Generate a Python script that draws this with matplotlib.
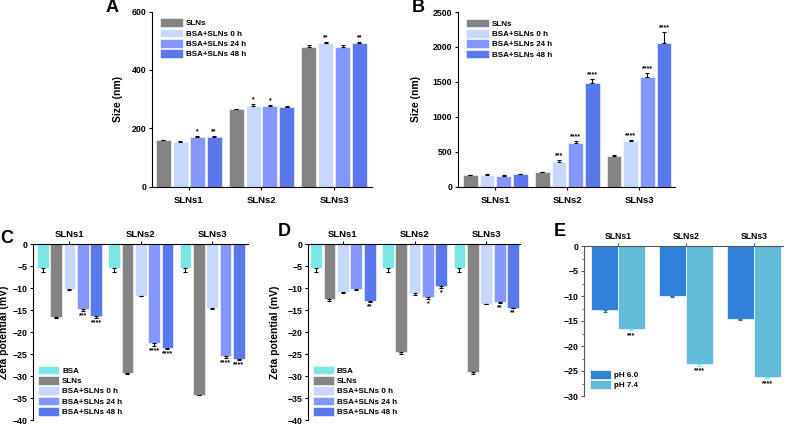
import numpy as np
import matplotlib
matplotlib.use("Agg")
import matplotlib.pyplot as plt
from matplotlib.patches import Patch

plt.rcParams['font.family'] = ['Liberation Sans', 'DejaVu Sans']
plt.rcParams['font.weight'] = 'bold'

groups = ["SLNs1", "SLNs2", "SLNs3"]

# Panel A: size (nm)
size_series = ["SLNs", "BSA+SLNs 0 h", "BSA+SLNs 24 h", "BSA+SLNs 48 h"]
A_vals = [[158, 265, 479], [154, 276, 492], [170, 276, 479], [171, 273, 492]]
A_errs = [[2, 2, 8], [2, 8, 4], [3, 3, 6], [4, 2, 3]]
A_stars = [["", "", ""], ["", "*", "**"], ["*", "*", ""], ["**", "", "**"]]

# Panel B: size (nm)
B_vals = [[167, 204, 440], [168, 357, 655], [155, 624, 1575], [180, 1490, 2055]]
B_errs = [[5, 8, 10], [8, 25, 15], [8, 30, 50], [6, 50, 160]]
B_stars = [["", "", ""], ["", "***", "****"], ["", "****", "****"], ["", "****", "****"]]

# Panel C: zeta potential (mV)
zeta_series = ["BSA", "SLNs", "BSA+SLNs 0 h", "BSA+SLNs 24 h", "BSA+SLNs 48 h"]
C_vals = [[-5.5, -5.5, -5.5], [-16.5, -29.2, -34.3], [-10.2, -11.7, -14.4],
          [-14.7, -22.5, -25.5], [-16.3, -23.5, -26.1]]
C_errs = [[0.8, 0.8, 0.8], [0.3, 0.3, 0.1], [0.2, 0.1, 0.4],
          [0.5, 0.7, 0.4], [0.5, 0.4, 0.3]]
C_stars = [["", "", ""], ["", "", ""], ["", "", ""],
           ["***", "****", "****"], ["****", "****", "****"]]

# Panel D: zeta potential (mV)
D_vals = [[-5.5, -5.5, -5.5], [-12.5, -24.5, -29.1], [-10.8, -11.2, -13.6],
          [-10.1, -12.1, -13.2], [-12.8, -9.6, -14.4]]
D_errs = [[0.9, 0.9, 0.9], [0.5, 0.4, 0.4], [0.2, 0.3, 0.1],
          [0.3, 0.3, 0.2], [0.4, 0.4, 0.1]]
D_stars = [["", "", ""], ["", "", ""], ["", "", ""],
           ["", "*", "**"], ["**", "*", "**"]]

# Panel E: zeta potential by pH
ph_series = ["pH 6.0", "pH 7.4"]
E_vals = [[-12.8, -9.9, -14.6], [-16.5, -23.6, -26.2]]
E_errs = [[0.4, 0.3, 0.1], [0.3, 0.3, 0.2]]
E_stars = [["", "", ""], ["***", "****", "****"]]

size_colors = ["#848484", "#C8D7FF", "#8497FF", "#5A78EC"]
zeta_colors = ["#7DE6E4", "#848484", "#C8D7FF", "#8497FF", "#5A78EC"]
ph_colors = ["#2F82D8", "#62BCD8"]
ph_err_colors = ["#1F7F8F", "#6FE8F5"]

W, H = 789, 424
fig = plt.figure(figsize=(W / 100, H / 100), dpi=100)


def ax_at(x0, x1, y0, y1):
    return fig.add_axes([x0 / W, 1 - y1 / H, (x1 - x0) / W, (y1 - y0) / H])


TICK_FS = 6.3
CAT_FS = 6.8
LAB_FS = 7.5
LEG_FS = 5.8
STAR_FS = 5


def style_common(ax):
    for s in ax.spines.values():
        s.set_linewidth(0.8)
    ax.tick_params(axis='both', labelsize=TICK_FS, width=0.8, length=2.5, pad=1.5)
    for lbl in ax.get_yticklabels() + ax.get_xticklabels():
        lbl.set_fontweight('bold')


def size_panel(ax, vals, errs, stars, ymax, yticks, star_off, ylab_x):
    x = np.arange(len(groups))
    n = len(vals)
    pitch = 0.232
    w = 0.205
    for i in range(n):
        xs = x + (i - (n - 1) / 2) * pitch
        ax.bar(xs, vals[i], w, color=size_colors[i], edgecolor='white', linewidth=0.4,
               zorder=2)
        ax.errorbar(xs, vals[i], yerr=[np.zeros(len(groups)), errs[i]], fmt='none',
                    ecolor='black', elinewidth=0.8, capsize=1.6, capthick=0.8, zorder=3)
        for j in range(len(groups)):
            if stars[i][j]:
                ax.text(xs[j], vals[i][j] + errs[i][j] + star_off, stars[i][j],
                        ha='center', va='bottom', fontsize=STAR_FS, fontweight='bold')
    ax.set_xlim(-0.51, 2.52)
    ax.set_ylim(0, ymax)
    ax.set_yticks(yticks)
    ax.set_xticks(x)
    ax.set_xticklabels(groups, fontsize=CAT_FS, fontweight='bold')
    ax.spines['top'].set_visible(False)
    ax.spines['right'].set_visible(False)
    ax.set_ylabel("Size (nm)", fontsize=LAB_FS, fontweight='bold')
    ax.yaxis.set_label_coords(ylab_x, 0.5)
    style_common(ax)
    ax.tick_params(axis='x', labelsize=CAT_FS, pad=4)
    handles = [Patch(facecolor=c, edgecolor='white', linewidth=0.4) for c in size_colors]
    ax.legend(handles, size_series, loc='upper left', frameon=False,
              handlelength=2.8, handleheight=1.3,
              handletextpad=0.4, labelspacing=0.15, borderaxespad=0.1,
              bbox_to_anchor=(0.02, 0.985), prop={'weight': 'bold', 'size': LEG_FS})


def zeta_panel(ax, vals, errs, stars, xlim, ylab_x):
    x = np.arange(len(groups))
    n = len(vals)
    pitch = 0.187
    w = 0.165
    for i in range(n):
        xs = x + (i - (n - 1) / 2) * pitch
        ax.bar(xs, vals[i], w, color=zeta_colors[i], edgecolor='white', linewidth=0.4,
               zorder=2)
        ax.errorbar(xs, vals[i], yerr=[errs[i], np.zeros(len(groups))], fmt='none',
                    ecolor='black', elinewidth=0.8, capsize=1.5, capthick=0.8, zorder=3)
        for j in range(len(groups)):
            if stars[i][j]:
                ax.text(xs[j], vals[i][j] - errs[i][j] - 0.3, stars[i][j],
                        ha='center', va='top', fontsize=STAR_FS, fontweight='bold')
    ax.set_xlim(*xlim)
    ax.set_ylim(-40, 0)
    ax.set_yticks(np.arange(-40, 1, 5))
    ax.xaxis.tick_top()
    ax.set_xticks(x)
    ax.set_xticklabels(groups, fontsize=CAT_FS, fontweight='bold')
    ax.spines['bottom'].set_visible(False)
    ax.spines['right'].set_visible(False)
    ax.set_ylabel("Zeta potential (mV)", fontsize=LAB_FS, fontweight='bold')
    ax.yaxis.set_label_coords(ylab_x, 0.5)
    style_common(ax)
    ax.tick_params(axis='x', labelsize=CAT_FS, pad=1)
    handles = [Patch(facecolor=c, edgecolor='white', linewidth=0.4) for c in zeta_colors]
    ax.legend(handles, zeta_series, loc='lower left', frameon=False,
              handlelength=2.6, handleheight=1.3, handletextpad=0.4,
              labelspacing=0.15, borderaxespad=0.1, bbox_to_anchor=(0.005, 0.0),
              prop={'weight': 'bold', 'size': LEG_FS})


# A
axA = ax_at(151.7, 372, 11.7, 186.5)
size_panel(axA, A_vals, A_errs, A_stars, 600, [0, 200, 400, 600], 2, -0.13)
# B
axB = ax_at(458, 675, 12, 186.7)
size_panel(axB, B_vals, B_errs, B_stars, 2500, np.arange(0, 2501, 500), 8, -0.17)
axB.set_xlim(-0.52, 2.5)
# C
axC = ax_at(33, 248.3, 244.3, 420)
zeta_panel(axC, C_vals, C_errs, C_stars, (-0.51, 2.506), -0.11)
# D
axD = ax_at(307.7, 520, 244.3, 420)
zeta_panel(axD, D_vals, D_errs, D_stars, (-0.49, 2.47), -0.13)

# E
axE = ax_at(584, 783, 246, 396)
x = np.arange(len(groups))
pw = 0.395
for i in range(2):
    xs = x + (i - 0.5) * pw
    axE.bar(xs, E_vals[i], pw, color=ph_colors[i], edgecolor='#E8F6FB', linewidth=0.6,
            zorder=2)
    axE.errorbar(xs, E_vals[i], yerr=[E_errs[i], np.zeros(len(groups))], fmt='none',
                 ecolor=ph_err_colors[i], elinewidth=0.8, capsize=1.5, capthick=0.8,
                 zorder=3)
    for j in range(len(groups)):
        if E_stars[i][j]:
            axE.text(xs[j], E_vals[i][j] - E_errs[i][j] - 0.4, E_stars[i][j],
                     ha='center', va='top', fontsize=STAR_FS, fontweight='bold')
axE.set_xlim(-0.5, 2.43)
axE.set_ylim(-30, 0)
axE.set_yticks(np.arange(-30, 1, 5))
axE.set_yticks(np.arange(-30, 0, 2.5), minor=True)
axE.xaxis.tick_top()
axE.set_xticks(x)
axE.set_xticklabels(groups, fontsize=CAT_FS - 0.6, fontweight='bold')
axE.spines['bottom'].set_visible(False)
axE.spines['right'].set_visible(False)
for s in ['left', 'top']:
    axE.spines[s].set_color('#555555')
style_common(axE)
axE.tick_params(axis='both', colors='#555555', labelcolor='black')
axE.tick_params(axis='y', which='minor', length=1.5, width=0.6, colors='#555555')
axE.tick_params(axis='x', labelsize=CAT_FS - 0.6, pad=1)
handles = [Patch(facecolor=c, edgecolor='#E8F6FB', linewidth=0.6) for c in ph_colors]
axE.legend(handles, ph_series, loc='lower left', frameon=False,
           handlelength=2.6, handleheight=1.3, handletextpad=0.4,
           labelspacing=0.1, borderaxespad=0.1, bbox_to_anchor=(0.01, 0.02),
           prop={'weight': 'bold', 'size': LEG_FS})

# Panel letters
for letter, px, py in [("A", 112, 8), ("B", 418, 8), ("C", 7, 238), ("D", 284, 232),
                       ("E", 560, 232)]:
    fig.text(px / W, 1 - py / H, letter, fontsize=13, fontweight='bold',
             ha='center', va='center')

fig.savefig("out.png", dpi=100)
